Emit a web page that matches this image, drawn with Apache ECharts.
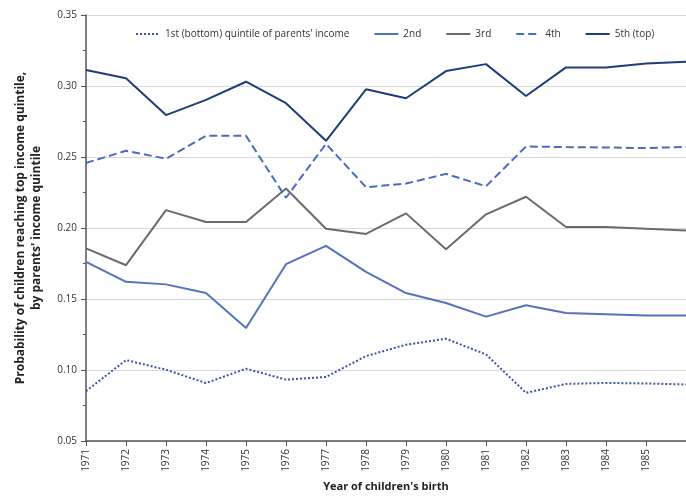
<!DOCTYPE html>
<html>
<head>
<meta charset="utf-8">
<script src="https://cdn.jsdelivr.net/npm/echarts@6/dist/echarts.min.js"></script>
<style>html,body{margin:0;padding:0;background:#fff;}#c{width:686px;height:497px;}</style>
</head>
<body>
<div id="c"></div>
<script>
var years = ['1971','1972','1973','1974','1975','1976','1977','1978','1979','1980','1981','1982','1983','1984','1985','1986'];
var q1 = [0.0851,0.1070,0.1002,0.0908,0.1009,0.0932,0.0951,0.1098,0.1178,0.1220,0.1110,0.0839,0.0902,0.0909,0.0905,0.0898];
var q2 = [0.1762,0.1621,0.1603,0.1542,0.1296,0.1745,0.1874,0.1691,0.1542,0.1472,0.1376,0.1456,0.1402,0.1393,0.1383,0.1383];
var q3 = [0.1856,0.1738,0.2126,0.2042,0.2042,0.2278,0.1995,0.1958,0.2103,0.1851,0.2096,0.2220,0.2007,0.2007,0.1995,0.1982];
var q4 = [0.2458,0.2544,0.2488,0.2649,0.2649,0.2213,0.2593,0.2287,0.2313,0.2381,0.2294,0.2574,0.2570,0.2567,0.2563,0.2571];
var q5 = [0.3112,0.3054,0.2795,0.2902,0.3030,0.2879,0.2614,0.2977,0.2914,0.3105,0.3154,0.2930,0.3131,0.3130,0.3159,0.3170];
var names = ["1st (bottom) quintile of parents' income", '2nd', '3rd', '4th', '5th (top)'];
var hiddenLabels = ['1986'];

var chart = echarts.init(document.getElementById('c'), null, {renderer: 'canvas'});
var font = 'Open Sans';
function mk(name, data, color, type, width) {
  return {
    name: name, type: 'line', data: data, symbol: 'none',
    lineStyle: {color: color, type: type, width: width},
    itemStyle: {color: color}
  };
}
chart.setOption({
  animation: false,
  textStyle: {fontFamily: font},
  legend: {
    orient: 'horizontal',
    top: 24, left: 130, itemGap: 24, itemWidth: 24, itemHeight: 10,
    itemStyle: {opacity: 0},
    textStyle: {fontSize: 10, color: '#333', fontFamily: font},
    data: names
  },
  grid: {left: 86, right: 0, top: 15, bottom: 55, containLabel: false},
  xAxis: {
    type: 'category', data: years, boundaryGap: false,
    name: "Year of children's birth", nameLocation: 'middle', nameGap: 40,
    nameTextStyle: {fontSize: 11, fontWeight: 'bold', color: '#222', fontFamily: font},
    axisLine: {lineStyle: {color: '#555', width: 1.5}},
    axisTick: {show: true, length: 5, lineStyle: {color: '#555'}},
    axisLabel: {rotate: 90, fontSize: 10, color: '#333', margin: 8,
      formatter: function (v) { return hiddenLabels.indexOf(v) >= 0 ? '' : v; }},
    splitLine: {show: false}
  },
  yAxis: {
    type: 'value', min: 0.05, max: 0.35, interval: 0.05,
    name: "Probability of children reaching top income quintile,\nby parents' income quintile",
    nameLocation: 'middle', nameGap: 41, nameRotate: 90,
    nameTextStyle: {fontSize: 12, fontWeight: 'bold', color: '#222', lineHeight: 16, fontFamily: font},
    axisLine: {show: true, lineStyle: {color: '#555', width: 1.5}},
    axisTick: {show: true, length: 5, lineStyle: {color: '#555'}},
    minorTick: {show: true, splitNumber: 2, length: 3, lineStyle: {color: '#555'}},
    axisLabel: {fontSize: 10, color: '#333', margin: 9, formatter: function (v) { return v.toFixed(2); }},
    splitLine: {show: true, lineStyle: {color: '#d9d9d9', width: 1}}
  },
  series: [
    mk(names[0], q1, '#3d55a5', 'dotted', 2),
    mk(names[1], q2, '#5672bd', 'solid', 2),
    mk(names[2], q3, '#6b6b6b', 'solid', 2),
    mk(names[3], q4, '#4a6cc0', 'dashed', 2),
    mk(names[4], q5, '#1f3d78', 'solid', 2)
  ]
});
</script>
</body>
</html>
